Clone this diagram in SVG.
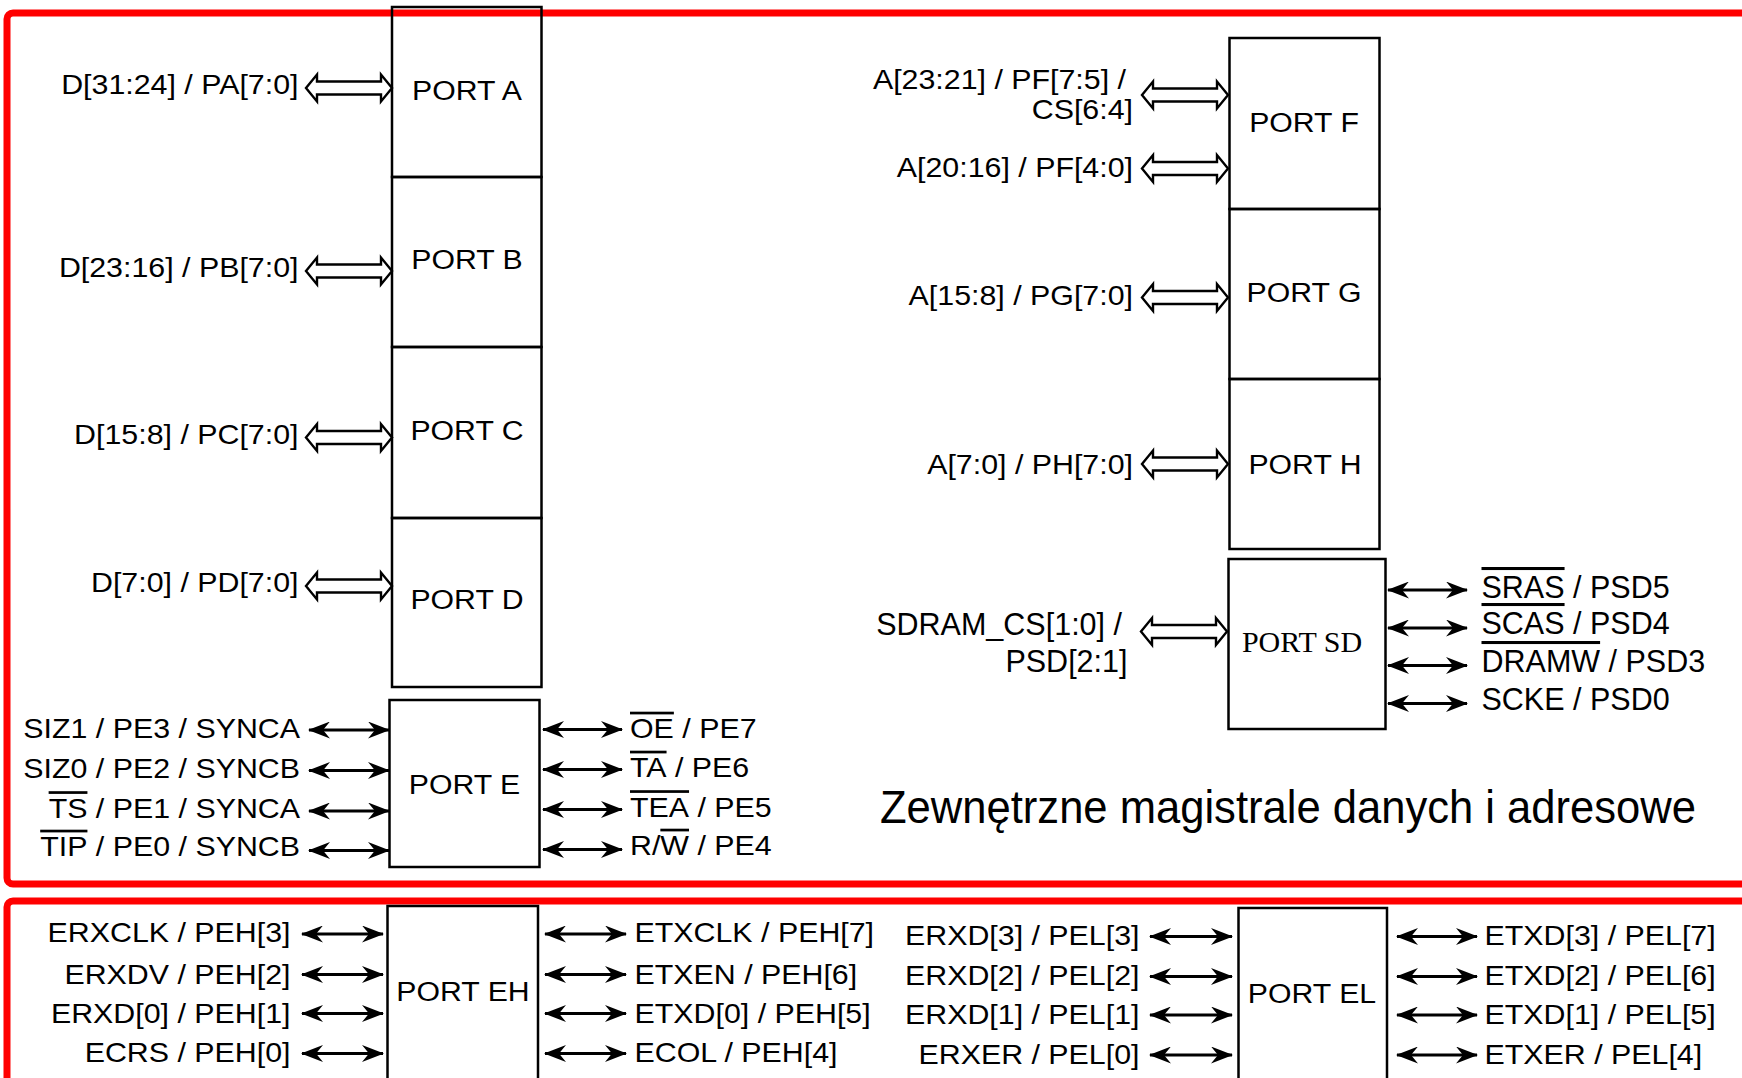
<svg xmlns="http://www.w3.org/2000/svg" xmlns:xlink="http://www.w3.org/1999/xlink" width="1742" height="1078" viewBox="0 0 1742 1078">
<style>
.t{font-family:"Liberation Sans",Arial,sans-serif;font-size:27px;fill:#000}
.sd{font-family:"Liberation Sans",Arial,sans-serif;font-size:30.5px;fill:#000}
.serif{font-family:"Liberation Serif","Times New Roman",serif;font-size:30px;fill:#000}
.big{font-family:"Liberation Sans",Arial,sans-serif;font-size:46px;fill:#000}
.e{text-anchor:end}
.m{text-anchor:middle}
.ov{text-decoration:overline}
.box{fill:none;stroke:#000;stroke-width:2.5}
.frame{fill:none;stroke:#ff0000;stroke-width:7}
.arr{stroke:#000;stroke-width:3;fill:none;marker-start:url(#ah);marker-end:url(#ah)}
.dar{fill:#fff;stroke:#000;stroke-width:2.4}
</style>
<defs>
<marker id="ah" viewBox="0 0 22 17" refX="21" refY="8.5" markerWidth="22" markerHeight="17" markerUnits="userSpaceOnUse" orient="auto-start-reverse">
<path d="M0,0 L22,8.5 L0,17 L7,8.5 Z" fill="#000"/>
</marker>
<path id="dar" class="dar" d="M0,0 L11,-13.5 L11,-6.5 L75,-6.5 L75,-13.5 L86,0 L75,13.5 L75,6.5 L11,6.5 L11,13.5 Z"/>
</defs>
<rect width="1742" height="1078" fill="#fff"/>
<g id="frames">
<rect class="frame" x="7" y="13" width="1800" height="871" rx="6"/>
<rect class="frame" x="7" y="901" width="1800" height="300" rx="6"/>
</g>
<g id="connectors">
<use xlink:href="#dar" href="#dar" x="306" y="88"/>
<use xlink:href="#dar" href="#dar" x="306" y="271"/>
<use xlink:href="#dar" href="#dar" x="306" y="437.5"/>
<use xlink:href="#dar" href="#dar" x="306" y="586"/>
<use xlink:href="#dar" href="#dar" x="1142" y="95"/>
<use xlink:href="#dar" href="#dar" x="1142" y="168.5"/>
<use xlink:href="#dar" href="#dar" x="1142" y="297.5"/>
<use xlink:href="#dar" href="#dar" x="1142" y="464"/>
<use xlink:href="#dar" href="#dar" x="1141" y="631.5"/>
<line class="arr" x1="309" y1="730" x2="389" y2="730"/>
<line class="arr" x1="309" y1="770.5" x2="389" y2="770.5"/>
<line class="arr" x1="309" y1="811" x2="389" y2="811"/>
<line class="arr" x1="309" y1="850.5" x2="389" y2="850.5"/>
<line class="arr" x1="543" y1="729.5" x2="622" y2="729.5"/>
<line class="arr" x1="543" y1="769.5" x2="622" y2="769.5"/>
<line class="arr" x1="543" y1="809.5" x2="622" y2="809.5"/>
<line class="arr" x1="543" y1="849.5" x2="622" y2="849.5"/>
<line class="arr" x1="1388" y1="590" x2="1467" y2="590"/>
<line class="arr" x1="1388" y1="628" x2="1467" y2="628"/>
<line class="arr" x1="1388" y1="665.5" x2="1467" y2="665.5"/>
<line class="arr" x1="1388" y1="703.5" x2="1467" y2="703.5"/>
<line class="arr" x1="302" y1="934" x2="383" y2="934"/>
<line class="arr" x1="302" y1="974.5" x2="383" y2="974.5"/>
<line class="arr" x1="302" y1="1013.5" x2="383" y2="1013.5"/>
<line class="arr" x1="302" y1="1053.5" x2="383" y2="1053.5"/>
<line class="arr" x1="545" y1="934" x2="626" y2="934"/>
<line class="arr" x1="545" y1="974.5" x2="626" y2="974.5"/>
<line class="arr" x1="545" y1="1013.5" x2="626" y2="1013.5"/>
<line class="arr" x1="545" y1="1053.5" x2="626" y2="1053.5"/>
<line class="arr" x1="1150" y1="936.5" x2="1232" y2="936.5"/>
<line class="arr" x1="1150" y1="976.5" x2="1232" y2="976.5"/>
<line class="arr" x1="1150" y1="1015" x2="1232" y2="1015"/>
<line class="arr" x1="1150" y1="1055" x2="1232" y2="1055"/>
<line class="arr" x1="1397" y1="936.5" x2="1477" y2="936.5"/>
<line class="arr" x1="1397" y1="976.5" x2="1477" y2="976.5"/>
<line class="arr" x1="1397" y1="1015" x2="1477" y2="1015"/>
<line class="arr" x1="1397" y1="1055" x2="1477" y2="1055"/>
</g>
<g id="portA">
<rect class="box" x="392" y="7" width="149.5" height="170"/>
<text class="t m" transform="translate(467,100) scale(1.12,1)">PORT A</text>
<text class="t e" transform="translate(298.5,93.5) scale(1.125,1)">D[31:24] / PA[7:0]</text>
</g>
<g id="portB">
<rect class="box" x="392" y="177" width="149.5" height="170"/>
<text class="t m" transform="translate(467,269) scale(1.12,1)">PORT B</text>
<text class="t e" transform="translate(298.5,277) scale(1.125,1)">D[23:16] / PB[7:0]</text>
</g>
<g id="portC">
<rect class="box" x="392" y="347" width="149.5" height="171"/>
<text class="t m" transform="translate(467,440) scale(1.12,1)">PORT C</text>
<text class="t e" transform="translate(298.5,443.5) scale(1.125,1)">D[15:8] / PC[7:0]</text>
</g>
<g id="portD">
<rect class="box" x="392" y="518" width="149.5" height="169"/>
<text class="t m" transform="translate(467,609) scale(1.12,1)">PORT D</text>
<text class="t e" transform="translate(298.5,592) scale(1.125,1)">D[7:0] / PD[7:0]</text>
</g>
<g id="portE">
<rect class="box" x="389.5" y="700" width="150" height="167"/>
<text class="t m" transform="translate(464.5,794) scale(1.12,1)">PORT E</text>
<text class="t e" transform="translate(300,737.5) scale(1.125,1)">SIZ1 / PE3 / SYNCA</text>
<text class="t e" transform="translate(300,778) scale(1.125,1)">SIZ0 / PE2 / SYNCB</text>
<text class="t e" transform="translate(300,817.5) scale(1.125,1)"><tspan class="ov">TS</tspan> / PE1 / SYNCA</text>
<text class="t e" transform="translate(300,856) scale(1.125,1)"><tspan class="ov">TIP</tspan> / PE0 / SYNCB</text>
<text class="t" transform="translate(630,738) scale(1.125,1)"><tspan class="ov">OE</tspan> / PE7</text>
<text class="t" transform="translate(630,777) scale(1.125,1)"><tspan class="ov">TA</tspan> / PE6</text>
<text class="t" transform="translate(630,816.5) scale(1.125,1)"><tspan class="ov">TEA</tspan> / PE5</text>
<text class="t" transform="translate(630,855) scale(1.125,1)">R/<tspan class="ov">W</tspan> / PE4</text>
</g>
<g id="portF">
<rect class="box" x="1229.5" y="38" width="150" height="171"/>
<text class="t m" transform="translate(1304,131.5) scale(1.12,1)">PORT F</text>
<text class="t e" transform="translate(1126,88.5) scale(1.125,1)">A[23:21] / PF[7:5] /</text>
<text class="t e" transform="translate(1133,118.5) scale(1.125,1)">CS[6:4]</text>
<text class="t e" transform="translate(1133,176.5) scale(1.125,1)">A[20:16] / PF[4:0]</text>
</g>
<g id="portG">
<rect class="box" x="1229.5" y="209" width="150" height="170"/>
<text class="t m" transform="translate(1304,301.5) scale(1.12,1)">PORT G</text>
<text class="t e" transform="translate(1133,305) scale(1.125,1)">A[15:8] / PG[7:0]</text>
</g>
<g id="portH">
<rect class="box" x="1229.5" y="379" width="150" height="170"/>
<text class="t m" transform="translate(1305,474) scale(1.12,1)">PORT H</text>
<text class="t e" transform="translate(1133,474) scale(1.125,1)">A[7:0] / PH[7:0]</text>
</g>
<g id="portSD">
<rect class="box" x="1228.5" y="559" width="157" height="170"/>
<text class="serif m" x="1302" y="651.5">PORT SD</text>
<text class="sd e" x="1122" y="635">SDRAM_CS[1:0] /</text>
<text class="sd e" x="1127.5" y="671.5">PSD[2:1]</text>
<text class="sd" x="1481.5" y="598"><tspan class="ov">SRAS</tspan> / PSD5</text>
<text class="sd" x="1481.5" y="634"><tspan class="ov">SCAS</tspan> / PSD4</text>
<text class="sd" x="1481.5" y="672"><tspan class="ov">DRAMW</tspan> / PSD3</text>
<text class="sd" x="1481.5" y="710">SCKE / PSD0</text>
</g>
<g id="caption">
<text class="big" x="880" y="823" textLength="816" lengthAdjust="spacingAndGlyphs">Zewnętrzne magistrale danych i adresowe</text>
</g>
<g id="portEH">
<rect class="box" x="387.5" y="906" width="150.5" height="200"/>
<text class="t m" transform="translate(463,1000.5) scale(1.12,1)">PORT EH</text>
<text class="t e" transform="translate(290.5,942) scale(1.125,1)">ERXCLK / PEH[3]</text>
<text class="t e" transform="translate(290.5,984) scale(1.125,1)">ERXDV / PEH[2]</text>
<text class="t e" transform="translate(290.5,1023) scale(1.125,1)">ERXD[0] / PEH[1]</text>
<text class="t e" transform="translate(290.5,1062) scale(1.125,1)">ECRS / PEH[0]</text>
<text class="t" transform="translate(634.5,942) scale(1.125,1)">ETXCLK / PEH[7]</text>
<text class="t" transform="translate(634.5,984) scale(1.125,1)">ETXEN / PEH[6]</text>
<text class="t" transform="translate(634.5,1023) scale(1.125,1)">ETXD[0] / PEH[5]</text>
<text class="t" transform="translate(634.5,1062) scale(1.125,1)">ECOL / PEH[4]</text>
</g>
<g id="portEL">
<rect class="box" x="1238.5" y="908" width="148.5" height="200"/>
<text class="t m" transform="translate(1312,1002.5) scale(1.12,1)">PORT EL</text>
<text class="t e" transform="translate(1139.5,945) scale(1.125,1)">ERXD[3] / PEL[3]</text>
<text class="t e" transform="translate(1139.5,985) scale(1.125,1)">ERXD[2] / PEL[2]</text>
<text class="t e" transform="translate(1139.5,1024) scale(1.125,1)">ERXD[1] / PEL[1]</text>
<text class="t e" transform="translate(1139.5,1064) scale(1.125,1)">ERXER / PEL[0]</text>
<text class="t" transform="translate(1484.5,945) scale(1.125,1)">ETXD[3] / PEL[7]</text>
<text class="t" transform="translate(1484.5,985) scale(1.125,1)">ETXD[2] / PEL[6]</text>
<text class="t" transform="translate(1484.5,1024) scale(1.125,1)">ETXD[1] / PEL[5]</text>
<text class="t" transform="translate(1484.5,1064) scale(1.125,1)">ETXER / PEL[4]</text>
</g>
</svg>
